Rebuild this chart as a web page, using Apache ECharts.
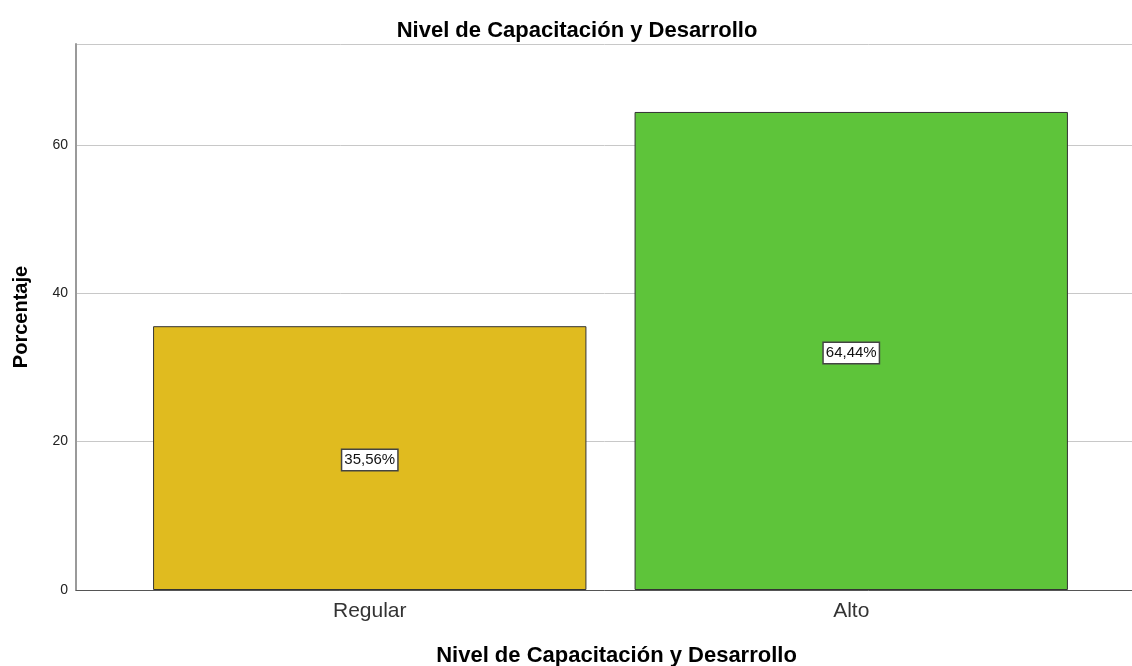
<!DOCTYPE html>
<html>
<head>
<meta charset="utf-8">
<script src="https://cdn.jsdelivr.net/npm/echarts@6/dist/echarts.min.js"></script>
<style>
  html, body { margin: 0; padding: 0; background: #fff; }
  #chart { width: 1132px; height: 666px; }
</style>
</head>
<body>
<div id="chart"></div>
<script>
// Chart data
const categories = ['Regular', 'Alto'];
const percentages = [35.56, 64.44];
const barColors = ['#e0bb1f', '#5ec43a'];
const yTicks = [0, 20, 40, 60];

const FONT = '"Liberation Sans", Arial, sans-serif';
const Y_MAX = 73.6;

const chart = echarts.init(document.getElementById('chart'), null, { renderer: 'canvas' });

function fmt(v) {
  return v.toFixed(2).replace('.', ',') + '%';
}

chart.setOption({
  animation: false,
  backgroundColor: '#ffffff',
  title: {
    text: 'Nivel de Capacitación y Desarrollo',
    left: 572, top: 15, textAlign: 'center',
    textStyle: { fontFamily: FONT, fontSize: 22, fontWeight: 'bold', color: '#000' }
  },
  grid: [
    // frame grid: axes and gridlines (runs past the right edge)
    { left: 76, right: -25, top: 44, bottom: 76, outerBoundsMode: 'none', containLabel: false },
    // bar grid: category bands
    { left: 129, width: 963, top: 44, bottom: 76, outerBoundsMode: 'none', containLabel: false }
  ],
  xAxis: [
    {
      gridIndex: 0, type: 'category', data: [''],
      axisLine: { lineStyle: { color: '#555', width: 1 } },
      axisTick: { show: false }, axisLabel: { show: false },
      name: 'Nivel de Capacitación y Desarrollo',
      nameLocation: 'middle', nameGap: 55,
      nameTextStyle: { fontFamily: FONT, fontSize: 22, fontWeight: 'bold', color: '#000' }
    },
    {
      gridIndex: 1, type: 'category', data: categories,
      axisLine: { show: false }, axisTick: { show: false },
      axisLabel: { fontFamily: FONT, fontSize: 21, color: '#333', margin: 11 }
    }
  ],
  yAxis: [
    {
      gridIndex: 0, type: 'value', min: 0, max: Y_MAX, interval: 20,
      axisLine: { show: true, lineStyle: { color: '#9a9a9a', width: 2 } },
      axisTick: { show: false },
      axisLabel: {
        fontFamily: FONT, fontSize: 14, color: '#222', margin: 8,
        formatter: v => (yTicks.includes(v) ? String(v) : '')
      },
      splitLine: { show: true, lineStyle: { color: '#c8c8c8', width: 1 } },
      name: 'Porcentaje', nameLocation: 'middle', nameGap: 45,
      nameTextStyle: { fontFamily: FONT, fontSize: 20, fontWeight: 'bold', color: '#000' }
    },
    {
      gridIndex: 1, type: 'value', min: 0, max: Y_MAX, show: false
    }
  ],
  series: [{
    type: 'bar',
    xAxisIndex: 1, yAxisIndex: 1,
    barWidth: '90%',
    data: percentages.map((v, i) => ({
      value: v,
      itemStyle: { color: barColors[i], borderColor: '#333', borderWidth: 1 }
    })),
    label: {
      show: true, position: 'inside', offset: [0, 2],
      formatter: p => fmt(p.value),
      fontFamily: FONT, fontSize: 15, color: '#111',
      backgroundColor: '#fff', borderColor: '#444', borderWidth: 1.5,
      padding: [3, 2, 2, 2]
    }
  }]
});
</script>
</body>
</html>
